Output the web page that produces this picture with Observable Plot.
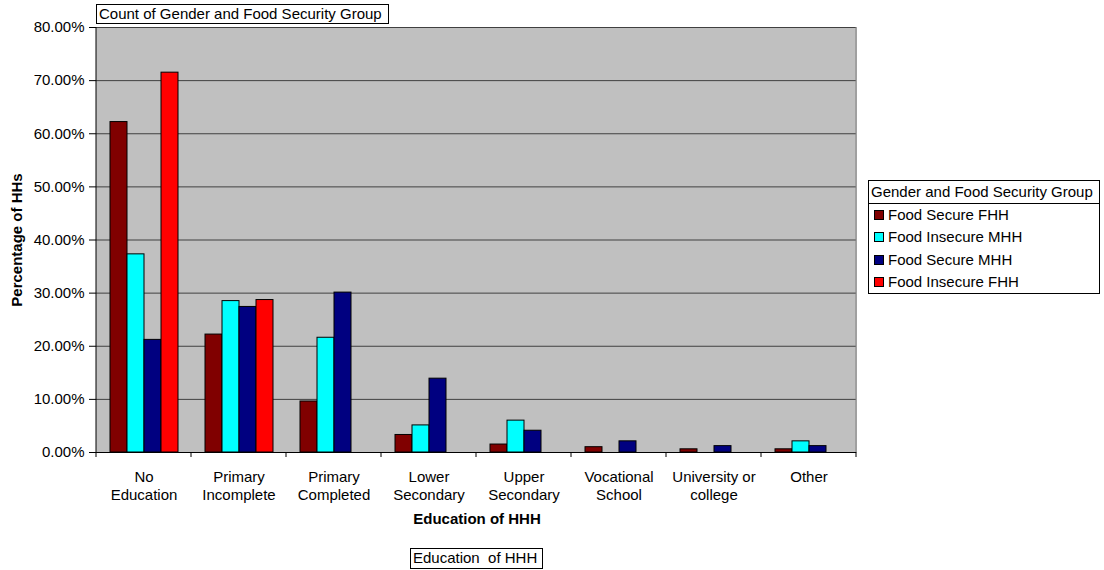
<!DOCTYPE html>
<html><head><meta charset="utf-8">
<script src="https://cdn.jsdelivr.net/npm/d3@7"></script>
<script src="https://cdn.jsdelivr.net/npm/@observablehq/plot@0.6"></script>
<style>
body{margin:0;background:#fff;font-family:"Liberation Sans",Arial,sans-serif;color:#000}
#wrap{position:relative;width:1104px;height:570px;overflow:hidden}
#wrap svg{position:absolute;left:0;top:0}
.box{position:absolute;border:1px solid #000;background:#fff;font-size:15px;line-height:18px;white-space:pre;box-sizing:border-box;padding-left:2px}
.ttl{position:absolute;font-size:15px;font-weight:bold;white-space:nowrap}
#legend{position:absolute;left:868px;top:180px;width:232px;height:114px;border:1px solid #000;background:#fff;box-sizing:border-box;font-size:15px}
#legend .head{height:22px;line-height:22px;border-bottom:1px solid #000;padding-left:2px;white-space:nowrap}
#legend .item{height:22.3px;line-height:22.3px;padding-left:5px;white-space:nowrap}
#legend .sw{display:inline-block;width:8px;height:8px;border:1px solid #000;margin-right:4px;vertical-align:0px}
</style></head><body><div id="wrap"></div>
<script>
const categories = ["No Education","Primary Incomplete","Primary Completed","Lower Secondary","Upper Secondary","Vocational School","University or college","Other"];
const categoryLabels = ["No\nEducation","Primary\nIncomplete","Primary\nCompleted","Lower\nSecondary","Upper\nSecondary","Vocational\nSchool","University or\ncollege","Other"];
const series = ["Food Secure FHH","Food Insecure MHH","Food Secure MHH","Food Insecure FHH"];
const seriesColors = ["#800000","#00ffff","#000080","#ff0000"];
// percentages per category, in category order
const foodSecureFHH   = [62.2, 22.2,  9.6,  3.3, 1.5, 1.0, 0.6, 0.6];
const foodInsecureMHH = [37.3, 28.5, 21.6,  5.1, 6.0, 0.0, 0.0, 2.1];
const foodSecureMHH   = [21.2, 27.4, 30.1, 13.9, 4.1, 2.1, 1.2, 1.2];
const foodInsecureFHH = [71.5, 28.7,  0.0,  0.0, 0.0, 0.0, 0.0, 0.0];
const yTicks = [0, 0.1, 0.2, 0.3, 0.4, 0.5, 0.6, 0.7, 0.8];

const seriesValues = [foodSecureFHH, foodInsecureMHH, foodSecureMHH, foodInsecureFHH];
const data = categories.flatMap((c, i) => series.map((s, j) => ({category: c, series: s, value: seriesValues[j][i] / 100})))
  .filter(d => d.value > 0);

const font = '"Liberation Sans", Arial, sans-serif';
const plot = Plot.plot({
  width: 1104, height: 570,
  marginLeft: 95, marginRight: 247, marginTop: 27, marginBottom: 118,
  style: {fontFamily: font, fontSize: "15px", color: "#000", background: "transparent", overflow: "visible"},
  fx: {domain: categories, padding: 0, label: null, axis: null},
  x: {domain: series, paddingInner: 0, paddingOuter: 0.745, axis: null},
  y: {domain: [0, 0.8], axis: null},
  color: {domain: series, range: seriesColors},
  marks: [
    Plot.frame({fill: "#c0c0c0", stroke: "#c0c0c0"}),
    Plot.ruleY(yTicks.slice(1), {stroke: "#404040", strokeWidth: 1}),
    Plot.barY(data, {fx: "category", x: "series", y: "value", fill: "series", stroke: "#000", strokeWidth: 1}),
    Plot.ruleY([0], {stroke: "#000", strokeWidth: 1}),
    Plot.axisY({ticks: yTicks, tickFormat: d3.format(".2%"), tickSize: 7, tickPadding: 5, fontSize: 15, label: null, stroke: "#000"}),
    Plot.axisFx({anchor: "bottom", tickSize: 0, tickPadding: 17, fontSize: 15, label: null, lineHeight: 1.18,
      tickFormat: d => categoryLabels[categories.indexOf(d)]})
  ]
});

// plot-area border lines and category-boundary ticks, positioned from Plot's scales
const fx = plot.scale("fx"), ys = plot.scale("y");
const y0 = ys.apply(0), yTop = ys.apply(0.8);
const left = fx.apply(categories[0]);
const right = fx.apply(categories[categories.length - 1]) + fx.bandwidth;
const g = d3.select(plot).append("g");
g.append("line").attr("x1", right).attr("x2", right).attr("y1", yTop).attr("y2", y0).attr("stroke", "#808080");
g.append("line").attr("x1", left).attr("x2", left).attr("y1", yTop).attr("y2", y0).attr("stroke", "#000");
const bounds = categories.map(c => fx.apply(c)).concat([right]);
g.selectAll("line.tk").data(bounds).join("line").attr("class", "tk")
  .attr("x1", d => d).attr("x2", d => d).attr("y1", y0).attr("y2", y0 + 5).attr("stroke", "#000");

const wrap = document.getElementById("wrap");
wrap.appendChild(plot);

function addDiv(cls, text, css) {
  const d = document.createElement("div");
  d.className = cls; d.textContent = text; Object.assign(d.style, css); wrap.appendChild(d); return d;
}
addDiv("box", "Count of Gender and Food Security Group", {left: "96px", top: "4px", width: "293px", height: "20px"});
addDiv("box", "Education  of HHH", {left: "410px", top: "548px", width: "133px", height: "21px"});
addDiv("ttl", "Education of HHH", {left: "477px", top: "510px", transform: "translateX(-50%)"});
addDiv("ttl", "Percentage of HHs", {left: "16px", top: "240px", transform: "translate(-50%,-50%) rotate(-90deg)"});

const legend = document.createElement("div");
legend.id = "legend";
legend.innerHTML = `<div class="head">Gender and Food Security Group</div>` +
  series.map((s, i) => `<div class="item"><span class="sw" style="background:${seriesColors[i]}"></span>${s}</div>`).join("");
wrap.appendChild(legend);
</script></body></html>
